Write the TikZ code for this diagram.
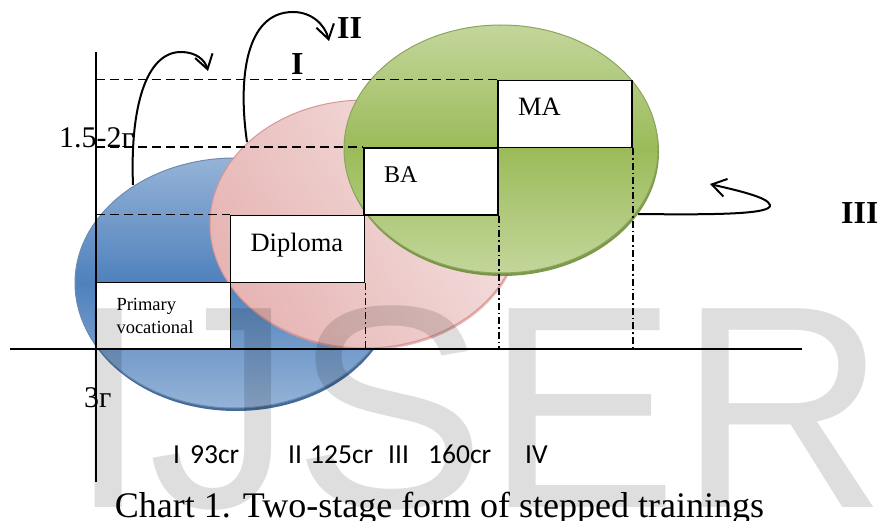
\documentclass[tikz,border=0pt]{standalone}
\usepackage{fontspec}
\setmainfont{Liberation Serif}
\newfontfamily\calibrifont{Carlito}
\newfontfamily\markfont{Liberation Sans}
\usetikzlibrary{arrows.meta,shadows}

\begin{document}
\begin{tikzpicture}[x=1pt,y=-1pt,
  stepbox/.style={draw,line width=1.8pt,fill=white,minimum width=134pt,minimum height=67pt,inner xsep=0pt,text width=94pt,align=left},
  blob/.style={line width=1pt},
  levelline/.style={line width=1.8pt,dash pattern=on 9pt off 5pt},
  dropline/.style={line width=1.5pt,dash pattern=on 7pt off 3pt on 1.5pt off 3pt},
  axisline/.style={line width=1.6pt},
  curl/.style={line width=2pt,-{Straight Barb[length=14pt,width=18pt,line width=2pt]}},
  stage/.style={font=\bfseries\fontsize{32}{36}\selectfont,anchor=base west,inner sep=0pt},
  credit/.style={font=\calibrifont\fontsize{27.5}{30}\selectfont,anchor=base west,inner sep=0pt},
  years/.style={font=\fontsize{30}{34}\selectfont,anchor=base west,inner sep=0pt}]
\definecolor{bluelight}{HTML}{95B3D7}
\definecolor{bluedark}{HTML}{4F81BD}
\definecolor{blueedge}{HTML}{2F5A8F}
\definecolor{pinklight}{HTML}{F4E2E1}
\definecolor{pinkdark}{HTML}{E6B5B4}
\definecolor{pinkedge}{HTML}{D99694}
\definecolor{greenlight}{HTML}{C3D69B}
\definecolor{greendark}{HTML}{9BBB59}
\definecolor{greenedge}{HTML}{6E8F35}
\useasboundingbox (0,0) rectangle (877,521);

% the three ellipses
\path[blob,draw=blueedge!70,top color=bluelight,bottom color=bluelight,middle color=bluedark,
  drop shadow={shadow xshift=1pt,shadow yshift=-3pt,fill=blueedge,opacity=0.9}]
  (235,283) ellipse [x radius=160pt,y radius=125pt];
\path[blob,draw=pinkedge,left color=pinkdark,right color=pinklight,shading angle=120,
  drop shadow={shadow xshift=1pt,shadow yshift=-2pt,fill=pinkedge,opacity=0.7}]
  (365,224) ellipse [x radius=155pt,y radius=124pt];
\path[blob,draw=greenedge!80,top color=greenlight,bottom color=greenlight,middle color=greendark,
  drop shadow={shadow xshift=1pt,shadow yshift=-3pt,fill=greenedge,opacity=0.9}]
  (501,149) ellipse [x radius=157pt,y radius=124pt];

% steps
\node[stepbox,font=\fontsize{18.5}{23}\selectfont] (prim) at (163.5,316) {Primary\\vocational};
\node[stepbox,font=\fontsize{26.5}{30}\selectfont,text depth=14pt] (dip) at (297.5,249) {Diploma};
\node[stepbox,font=\fontsize{24}{28}\selectfont,text depth=14pt] (ba) at (431,181.5) {BA};
\node[stepbox,font=\fontsize{26.5}{30}\selectfont,text depth=14pt] (ma) at (565,114) {MA};

% axes
\coordinate (o) at (96,349);
\coordinate (xl) at (10,349);
\coordinate (xr) at (802,349);
\coordinate (yt) at (96,52);
\coordinate (yb) at (96,482);
\draw[axisline] (xl) -- (xr);
\draw[axisline] (yt) -- (yb);

% levels
\draw[levelline] (o |- ma.north) -- (ma.north west);
\draw[levelline] (o |- ba.north) -- (ba.north west);
\draw[levelline] (o |- dip.north) -- (dip.north west);
\foreach \stp in {dip,ba,ma}
  \draw[dropline] (\stp.south east) -- (\stp.south east |- o);

% jumps
\coordinate (j1s) at (133,185);
\coordinate (j1e) at (208,71);
\coordinate (j2s) at (247,142);
\coordinate (j2e) at (329,41);
\coordinate (j3s) at (638,214);
\coordinate (j3e) at (710,184);
\draw[curl] (j1s) .. controls (130,110) and (145,52) .. (181,52) .. controls (196,52) and (205,60) .. (j1e);
\draw[curl] (j2s) .. controls (238,80) and (245,12) .. (293,12) .. controls (312,12) and (325,25) .. (j2e);
\draw[curl] (j3s) .. controls (720,215) and (772,214) .. (770,205) .. controls (768,197) and (735,190) .. (j3e);

\node[stage] (st1) at (291,75) {I};
\node[stage] (st2) at (337,39) {II};
\node[stage] (st3) at (841,223) {III};

\node[years] (yrs1) at (59,148) {1.5-2г};
\node[years] (yrs2) at (84,407) {3г};

\foreach \txt/\xx [count=\i] in {I/173,93cr/190,II/288,125cr/310,III/388,160cr/428,IV/525}
  {\node[credit] (cr\i) at (\xx,463) {\txt};}

\node[font=\fontsize{36}{40}\selectfont,anchor=base,inner sep=0pt] (caption) at (439.5,517) {Chart 1. Two-stage form of stepped trainings};

\node[font=\markfont\fontsize{289}{289}\selectfont,text=black,text opacity=0.13,anchor=base west,inner sep=0pt] (mark) at (68,507) {IJSER};
\end{tikzpicture}
\end{document}
